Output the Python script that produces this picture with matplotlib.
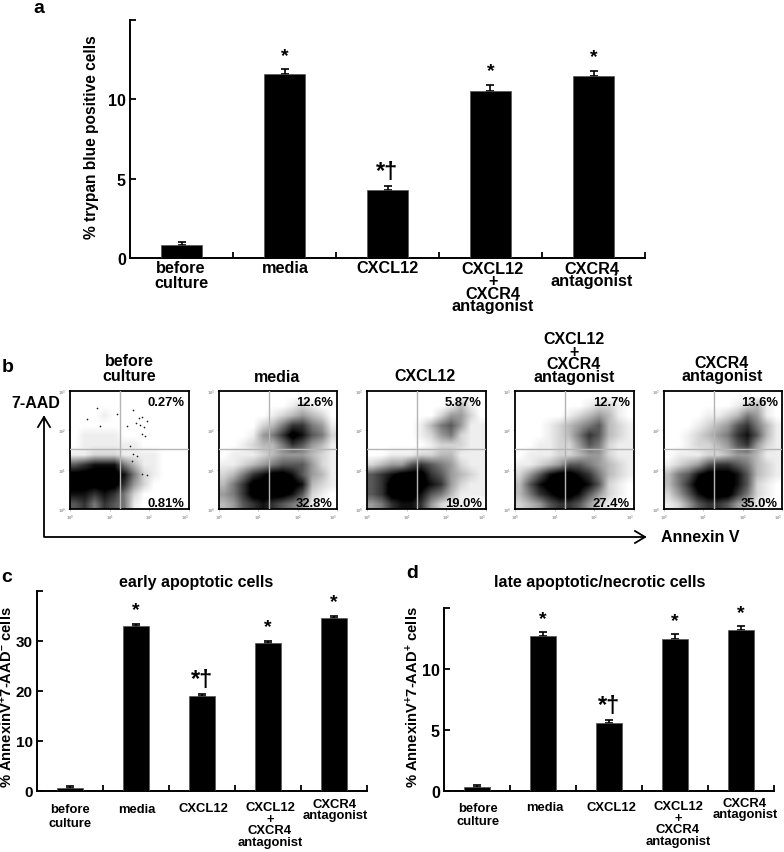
import numpy as np
import matplotlib
matplotlib.use('Agg')
import matplotlib.pyplot as plt

plt.rcParams['font.family'] = ['Liberation Sans', 'DejaVu Sans']
plt.rcParams['font.weight'] = 'bold'
plt.rcParams['mathtext.fontset'] = 'custom'
plt.rcParams['mathtext.bf'] = 'Liberation Sans:bold'
plt.rcParams['mathtext.rm'] = 'Liberation Sans:bold'
plt.rcParams['mathtext.default'] = 'bf'

# ---------- data ----------
trypan_values = [0.85, 11.6, 4.3, 10.55, 11.5]
trypan_errors = [0.17, 0.30, 0.25, 0.35, 0.30]
early_values = [0.7, 33.0, 19.0, 29.7, 34.6]
early_errors = [0.25, 0.40, 0.40, 0.40, 0.40]
late_values = [0.35, 12.7, 5.6, 12.5, 13.2]
late_errors = [0.12, 0.30, 0.25, 0.35, 0.30]
bar_marks = ['', '*', '*†', '*', '*']
upper_pct = ['0.27%', '12.6%', '5.87%', '12.7%', '13.6%']
lower_pct = ['0.81%', '32.8%', '19.0%', '27.4%', '35.0%']

# event density read by eye, 12 x 12 cells, top row first, 0 = empty .. 9 = solid
density_before = ["000000000000", "000000000000", "000100000000", "000000000000",
                  "011110000000", "011111100000", "112221111000", "678885311000",
                  "999998521000", "999997420000", "887875200000", "675765100000"]
density_media = ["000000000000", "000000012100", "000001234320", "000023577541",
                 "000145798652", "001233576431", "011123444321", "112345666421",
                 "235789986431", "357999998321", "457999986210", "346787654100"]
density_cxcl12 = ["000000000000", "000000001310", "000000024420", "000001356411",
                  "000001245211", "000000122211", "001112233111", "234467654211",
                  "678999764321", "679999874211", "679998653111", "457887421100"]
density_combo = ["000000000000", "000000012210", "000001234310", "000123456321",
                 "000123576321", "001122465211", "011122344211", "112346654321",
                 "246899875321", "368999986210", "357899864210", "234677642100"]
density_antag = ["000000000000", "000000012310", "000011235410", "000123467531",
                 "001234578631", "001223467421", "011122344311", "123467765321",
                 "356899986321", "357999986210", "246899975210", "124677643100"]
# stray events of the first plot (decades on each axis)
stray_x = [0.67, 1.60, 1.73, 1.81, 1.93, 1.67, 1.77, 1.87, 1.81, 1.89,
           1.52, 1.60, 1.70, 1.56, 1.81, 1.93, 0.42, 0.76, 1.18, 1.43]
stray_y = [2.56, 2.52, 2.32, 2.34, 2.25, 2.19, 2.14, 2.08, 1.91, 1.86,
           1.59, 1.40, 1.36, 1.22, 0.89, 0.86, 2.29, 2.10, 2.41, 2.10]
density_sets = [density_before, density_media, density_cxcl12, density_combo, density_antag]

W, H = 784, 853
fig = plt.figure(figsize=(W / 100, H / 100), dpi=100, facecolor='white')


def px_axes(x0, y0, x1, y1):
    """Axes from pixel box (top-left origin)."""
    return fig.add_axes([x0 / W, 1 - y1 / H, (x1 - x0) / W, (y1 - y0) / H])


def bar_panel(box, values, errors, ymax, yticks, ylabels, width, star_off, star_fs, tick_fs):
    ax = px_axes(*box)
    xs = np.arange(5)
    ax.bar(xs, values, width=width, color='black', edgecolor='#555555', linewidth=0.5, zorder=3)
    ax.errorbar(xs, values, yerr=[np.zeros(5), errors], fmt='none', ecolor='black',
                elinewidth=1.2, capsize=3, capthick=1.2, zorder=2)
    ax.set_xlim(-0.5, 4.5)
    ax.set_ylim(0, ymax)
    for s in ('top', 'right'):
        ax.spines[s].set_visible(False)
    for s in ('left', 'bottom'):
        ax.spines[s].set_linewidth(1.4)
    ax.set_xticks(np.arange(5) + 0.5, [''] * 5)
    ax.set_yticks(yticks, ylabels, fontsize=tick_fs, fontweight='bold')
    ax.tick_params(axis='both', direction='in', length=4, width=1.3, pad=3)
    for x, v, e, m in zip(xs, values, errors, bar_marks):
        if m:
            fs = star_fs + 3 if '†' in m else star_fs
            ax.annotate(m, (x, v + e), xytext=(0, star_off), textcoords='offset pixels',
                        ha='center', va='center', fontsize=fs, fontweight='bold')
    return ax


bar_panel((130, 21, 645, 259), trypan_values, trypan_errors, 15, [0, 5, 10, 15],
          ['0', '5', '10', ''], 0.40, 14, 14, 11.5)
bar_panel((37, 592, 367, 792), early_values, early_errors, 40, [0, 10, 20, 30, 40],
          ['0', '10', '20', '30', ''], 0.40, 14, 14, 11)
bar_panel((444, 609, 774, 792), late_values, late_errors, 15, [0, 5, 10, 15],
          ['0', '5', '10', ''], 0.40, 14, 14, 11.5)

# ---------- flow cytometry plots ----------
flow_x = [(70, 189), (219, 337), (367, 486), (515, 634), (664, 782)]
for i, (x0, x1) in enumerate(flow_x):
    ax = px_axes(x0, 392, x1, 510)
    grid = np.array([[int(c) for c in row] for row in density_sets[i]], dtype=float)
    ax.imshow(grid ** 1.25, cmap='gray_r', vmin=0, vmax=9 ** 1.25 * 0.92, extent=[0, 3, 0, 3],
              aspect='auto', interpolation='bilinear', zorder=1)
    if i == 0:
        ax.scatter(stray_x, stray_y, s=1.5, color='#222222', linewidths=0, zorder=2)
    ax.axvline(1.26, color='#b5b5b5', lw=1.0, zorder=3)
    ax.axhline(1.53, color='#b5b5b5', lw=1.0, zorder=3)
    ax.set_xlim(0, 3)
    ax.set_ylim(0, 3)
    for s in ax.spines.values():
        s.set_linewidth(1.3)
    dec = [r'$10^0$', r'$10^1$', r'$10^2$', r'$10^3$']
    ax.set_xticks([0, 1, 2, 3], dec)
    ax.set_yticks([0, 1, 2, 3], dec)
    ax.tick_params(axis='both', direction='out', length=1.5, width=0.4, color='#999999',
                   labelsize=3, labelcolor='#999999', pad=1)
    ax.get_xticklabels()[-1].set_ha('right')
    ax.text(0.965, 0.905, upper_pct[i], transform=ax.transAxes, ha='right', va='center',
            fontsize=9.4, fontweight='bold')
    ax.text(0.965, 0.05, lower_pct[i], transform=ax.transAxes, ha='right', va='center',
            fontsize=9.4, fontweight='bold')

# ---------- overlay in image pixels: labels, arrows ----------
ov = fig.add_axes([0, 0, 1, 1], zorder=10)
ov.set_xlim(0, W)
ov.set_ylim(H, 0)
ov.axis('off')


def T(x, y, s, fs, **kw):
    ov.text(x, y, s, fontsize=fs, fontweight='bold', ha='center', va='center', **kw)


def block(xc, yc, s, fs, step):
    """Stacked label as one text; step is the line pitch in pixels."""
    T(xc, yc, s, fs, linespacing=step / (fs * 100 / 72 * 1.04), multialignment='center')


for x, y, s in [(39, 8, 'a'), (8, 367, 'b'), (7, 577, 'c'), (412, 574, 'd')]:
    T(x, y, s, 14)

before = 'before\nculture'
combo = 'CXCL12\n+\nCXCR4\nantagonist'
antag = 'CXCR4\nantagonist'

# panel a categories
for xc, yc, s, step in [(181, 276, before, 16), (285, 268, 'media', 16), (388, 268, 'CXCL12', 16),
                        (493, 288, combo, 13.4), (592, 275.5, antag, 13.4)]:
    block(xc, yc, s, 11.7, step)
# panel c categories
for xc, yc, s, step in [(70, 817, before, 16), (137, 810, 'media', 16), (203, 809, 'CXCL12', 16),
                        (270, 825.5, combo, 13), (335, 810.5, antag, 13)]:
    block(xc, yc, s, 9.4, step)
# panel d categories
for xc, yc, s, step in [(478, 815.5, before, 15), (545, 808, 'media', 15), (611, 808, 'CXCL12', 15),
                        (678, 824.5, combo, 13), (745, 809.5, antag, 13)]:
    block(xc, yc, s, 9.4, step)
# flow titles
for xc, yc, s, step in [(129, 369, before, 16), (277, 377, 'media', 16), (425, 376, 'CXCL12', 16),
                        (574, 358.5, combo, 13), (722, 370, antag, 14)]:
    block(xc, yc, s, 11.5, step)

T(196, 583, 'early apoptotic cells', 11.5)
T(600, 583, 'late apoptotic/necrotic cells', 11.5)
T(92, 137, '% trypan blue positive cells', 11.2, rotation=90)
T(7, 697, r'% AnnexinV$^{+}$7-AAD$^{-}$ cells', 10.6, rotation=90)
T(413, 697, r'% AnnexinV$^{+}$7-AAD$^{+}$ cells', 10.6, rotation=90)
T(36, 403, '7-AAD', 11.5)
T(700, 538, 'Annexin V', 11.5)

# axes arrows of panel b
ov.plot([44, 44, 645], [418, 538, 538], color='black', lw=1.3, solid_joinstyle='round')
ov.plot([38, 44, 50], [428, 418, 428], color='black', lw=1.3)
ov.plot([635, 645, 635], [532, 538, 544], color='black', lw=1.3)

fig.savefig('out.png', dpi=100)
